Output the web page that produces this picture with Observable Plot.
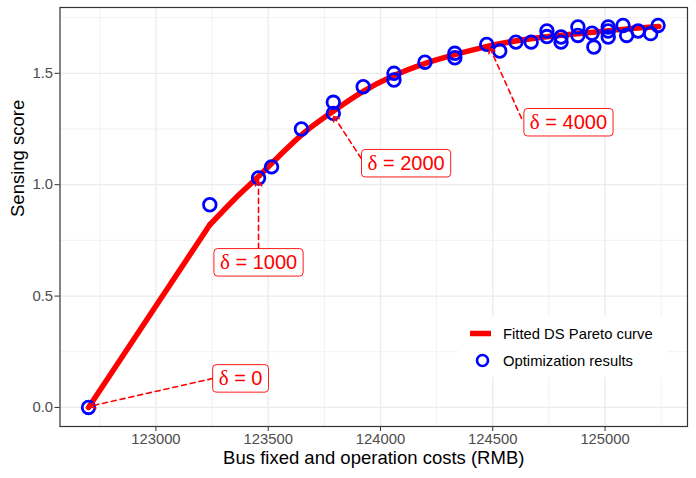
<!DOCTYPE html>
<html>
<head>
<meta charset="utf-8">
<script src="https://cdn.jsdelivr.net/npm/d3@7"></script>
<script src="https://cdn.jsdelivr.net/npm/@observablehq/plot@0.6"></script>
<style>
  html, body { margin: 0; padding: 0; background: #fff; overflow: hidden; }
  #wrap { position: relative; width: 696px; height: 478px; font-family: "Liberation Sans", Arial, sans-serif; }
  #legend { position: absolute; left: 458px; top: 316px; width: 209px; height: 61px; background: #fff; }
</style>
</head>
<body>
<div id="wrap"></div>
<script>
// ---- data ----
const pointX = [122700, 123240, 123457, 123515, 123648, 123790, 123790, 123923, 124060, 124060,
  124198, 124331, 124331, 124473, 124531, 124603, 124671, 124741, 124741, 124804,
  124804, 124879, 124879, 124942, 124950, 125014, 125014, 125014, 125080, 125096,
  125147, 125203, 125236];
const pointY = [0, 0.91, 1.03, 1.08, 1.25, 1.37, 1.32, 1.44, 1.50, 1.47,
  1.55, 1.59, 1.57, 1.63, 1.60, 1.64, 1.64, 1.69, 1.665, 1.663,
  1.64, 1.708, 1.67, 1.68, 1.618, 1.708, 1.69, 1.663, 1.715, 1.67,
  1.69, 1.678, 1.715];

const curveX = [122700, 123240, 123350, 123460, 123550, 123650, 123790, 123925, 124060, 124200,
  124335, 124470, 124600, 124750, 124900, 125050, 125240];
const curveY = [0, 0.82, 0.935, 1.04, 1.13, 1.225, 1.33, 1.42, 1.49, 1.545,
  1.585, 1.62, 1.645, 1.665, 1.68, 1.695, 1.71];

const annText   = ["δ = 0", "δ = 1000", "δ = 2000", "δ = 4000"];
const annLabelX = [123377, 123457, 124114, 124837];
const annLabelY = [0.130, 0.651, 1.096, 1.280];
const annStartX = [123253, 123457, 123914, 124628];
const annStartY = [0.130, 0.714, 1.118, 1.298];
const annTipX   = [122705, 123457, 123790, 124486];
const annTipY   = [0.005, 1.02, 1.31, 1.617];

const xTicks = [123000, 123500, 124000, 124500, 125000];
const xMinor = [122750, 123250, 123750, 124250, 124750, 125250];
const yTicks = [0, 0.5, 1.0, 1.5];
const yMinor = [0.25, 0.75, 1.25, 1.75];

const legendLabels = ["Fitted DS Pareto curve", "Optimization results"];

// ---- tables ----
const points = pointX.map((x, i) => ({x, y: pointY[i]}));
const curve = curveX.map((x, i) => ({x, y: curveY[i]}));
const anns = annText.map((t, i) => ({
  t, lx: annLabelX[i], ly: annLabelY[i],
  sx: annStartX[i], sy: annStartY[i], tx: annTipX[i], ty: annTipY[i]
}));

const font = "'Liberation Sans', Arial, sans-serif";

const chart = Plot.plot({
  width: 696,
  height: 478,
  marginLeft: 59.5,
  marginRight: 9,
  marginTop: 7,
  marginBottom: 52,
  style: {fontFamily: font, background: "#fff", overflow: "visible"},
  x: {domain: [122573, 125367]},
  y: {domain: [-0.0855, 1.7955]},
  marks: [
    Plot.gridX(xMinor, {stroke: "#EBEBEB", strokeOpacity: 1, strokeWidth: 0.7}),
    Plot.gridY(yMinor, {stroke: "#EBEBEB", strokeOpacity: 1, strokeWidth: 0.7}),
    Plot.gridX(xTicks, {stroke: "#EBEBEB", strokeOpacity: 1, strokeWidth: 1.3}),
    Plot.gridY(yTicks, {stroke: "#EBEBEB", strokeOpacity: 1, strokeWidth: 1.3}),
    Plot.line(curve.slice(0, 2), {x: "x", y: "y", stroke: "#FF0000", strokeWidth: 5.5, curve: "linear"}),
    Plot.line(curve.slice(1), {x: "x", y: "y", stroke: "#FF0000", strokeWidth: 5.5, curve: "monotone-x"}),
    Plot.dot(points, {x: "x", y: "y", r: 6.3, stroke: "#0000FF", strokeWidth: 2.8, fill: "none"}),
    Plot.arrow(anns, {x1: "sx", y1: "sy", x2: "tx", y2: "ty", stroke: "#FF0000",
      strokeWidth: 1.6, strokeDasharray: "5,4", headLength: 6, bend: 0}),
    Plot.text(anns, {x: "lx", y: "ly", text: "t", fill: "#FF0000", fontSize: 20,
      className: "annlabel"}),
    Plot.frame({stroke: "#333333", strokeWidth: 1.2}),
    Plot.axisX({ticks: xTicks, tickFormat: d => String(d), tickSize: 5, tickPadding: 2,
      fontSize: 14.8, fill: "#4D4D4D", stroke: "#333333", label: null}),
    Plot.axisY({ticks: yTicks, tickFormat: d3.format(".1f"), tickSize: 5, tickPadding: 2,
      fontSize: 14.8, fill: "#4D4D4D", stroke: "#333333", label: null}),
    Plot.text(["Bus fixed and operation costs (RMB)"], {frameAnchor: "bottom", text: d => d,
      dy: 37, fontSize: 18.5, fill: "#000"}),
    Plot.text(["Sensing score"], {frameAnchor: "left", text: d => d, rotate: -90,
      dx: -42, fontSize: 18.5, fill: "#000"})
  ]
});

const wrap = document.getElementById("wrap");
wrap.appendChild(chart);

const svgNS = "http://www.w3.org/2000/svg";
// serif delta (plotmath style) and label boxes behind annotation texts
chart.querySelectorAll(".annlabel text").forEach(t => {
  const s = t.textContent;
  if (s.startsWith("δ")) {
    t.textContent = "";
    const a = document.createElementNS(svgNS, "tspan");
    a.setAttribute("font-family", "'Liberation Serif', 'DejaVu Serif', serif");
    a.setAttribute("font-size", "21");
    a.textContent = "δ";
    const b = document.createElementNS(svgNS, "tspan");
    b.textContent = s.slice(1);
    t.appendChild(a);
    t.appendChild(b);
  }
  const bb = t.getBBox();
  const padX = 6, h = 27.5;
  const cy = bb.y + bb.height / 2;
  const r = document.createElementNS(svgNS, "rect");
  r.setAttribute("x", bb.x - padX);
  r.setAttribute("y", cy - h / 2 + 0.5);
  r.setAttribute("width", bb.width + 2 * padX);
  r.setAttribute("height", h);
  r.setAttribute("rx", 3.5);
  r.setAttribute("fill", "#fff");
  r.setAttribute("stroke", "#FF0000");
  r.setAttribute("stroke-width", 0.9);
  if (t.getAttribute("transform")) r.setAttribute("transform", t.getAttribute("transform"));
  t.parentNode.insertBefore(r, t);
});

// legend inside panel
const leg = document.createElement("div");
leg.id = "legend";
leg.innerHTML = `
<svg width="209" height="61" style="font-family:${font}">
  <line x1="12" x2="33" y1="17.5" y2="17.5" stroke="#FF0000" stroke-width="5.5"/>
  <circle cx="24.5" cy="44.5" r="5.5" fill="none" stroke="#0000FF" stroke-width="2.6"/>
  <text x="45" y="17.5" dy="0.35em" font-size="14.8" fill="#000">${legendLabels[0]}</text>
  <text x="45" y="44.5" dy="0.35em" font-size="14.8" fill="#000">${legendLabels[1]}</text>
</svg>`;
wrap.appendChild(leg);
</script>
</body>
</html>
